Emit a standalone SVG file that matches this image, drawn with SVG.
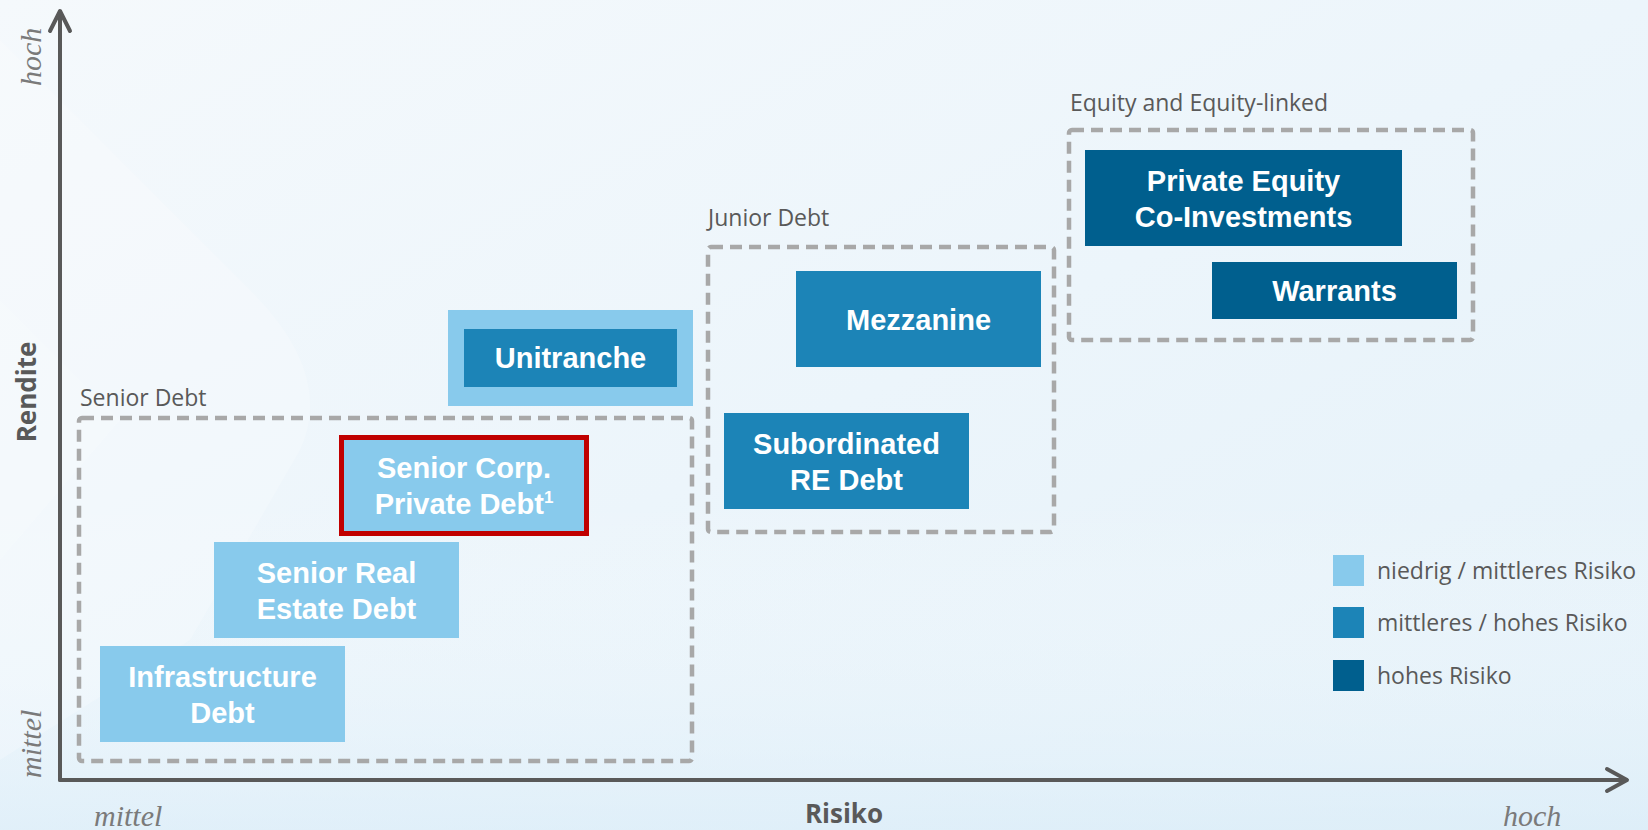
<svg xmlns="http://www.w3.org/2000/svg" width="1648" height="830" viewBox="0 0 1648 830">
  <defs>
    <linearGradient id="bg" x1="0" y1="0" x2="1" y2="1">
      <stop offset="0" stop-color="#f5f9fc"/>
      <stop offset="0.5" stop-color="#ecf5fb"/>
      <stop offset="1" stop-color="#e4f1f9"/>
    </linearGradient>
    <linearGradient id="bgb" x1="0" y1="0" x2="0" y2="1">
      <stop offset="0.6" stop-color="#ffffff" stop-opacity="0"/>
      <stop offset="1" stop-color="#d9ecf8" stop-opacity="0.6"/>
    </linearGradient>
    <style>
      .lab { font-family: "Open Sans", "Liberation Sans", sans-serif; font-size: 23px; fill: #595959; }
      .ax { font-family: "Open Sans", "Liberation Sans", sans-serif; font-size: 26px; font-weight: bold; fill: #595959; }
      .sc { font-family: "Liberation Serif", serif; font-style: italic; font-size: 30px; fill: #7a7a7a; }
      .bt { font-family: "Liberation Sans", Arial, sans-serif; font-size: 29px; font-weight: bold; fill: #ffffff; text-anchor: middle; }
      .grp { fill: none; stroke: #a8a8a8; stroke-width: 4.5; stroke-dasharray: 12 7; }
      .lo { fill: #88caec; }
      .mid { fill: #1c84b7; }
      .hi { fill: #005f8e; }
      .axis { fill: none; stroke: #595959; stroke-width: 4; stroke-linecap: round; stroke-linejoin: round; }
    </style>
  </defs>

  <g id="background">
    <rect x="0" y="0" width="1648" height="830" fill="url(#bg)"/>
    <rect x="0" y="0" width="1648" height="830" fill="url(#bgb)"/>
    <path d="M0,40 L250,290 Q335,375 300,450 L190,640 L0,760 Z" fill="#ffffff" fill-opacity="0.22"/>
    <path d="M0,300 L120,420 L0,560 Z" fill="#ffffff" fill-opacity="0.15"/>
  </g>

  <g id="connectors">
    <line class="axis" x1="60" y1="780" x2="60" y2="12"/>
    <polyline class="axis" points="50,31 60,11 70,31"/>
    <line class="axis" x1="60" y1="780" x2="1626" y2="780"/>
    <polyline class="axis" points="1607,769 1627,780 1607,791"/>
  </g>

  <g id="axis-labels">
    <text class="sc" transform="translate(41,86) rotate(-90)">hoch</text>
    <text class="sc" transform="translate(41,778) rotate(-90)">mittel</text>
    <text class="sc" x="94" y="826">mittel</text>
    <text class="sc" x="1503" y="826">hoch</text>
    <text class="ax" font-size="27" text-anchor="middle" transform="translate(36,392) rotate(-90)">Rendite</text>
    <text class="ax" x="844" y="823" text-anchor="middle">Risiko</text>
  </g>

  <g id="group-senior-debt">
    <rect class="grp" x="79" y="418" width="613" height="343" rx="3"/>
    <text class="lab" x="80" y="406">Senior Debt</text>
  </g>
  <g id="group-junior-debt">
    <rect class="grp" x="708" y="247" width="346" height="285" rx="3"/>
    <text class="lab" x="708" y="226">Junior Debt</text>
  </g>
  <g id="group-equity">
    <rect class="grp" x="1069" y="130" width="404" height="210" rx="3"/>
    <text class="lab" x="1070" y="111">Equity and Equity-linked</text>
  </g>

  <g id="node-infrastructure-debt">
    <rect class="lo" x="100" y="646" width="245" height="96"/>
    <text class="bt" x="222.5" y="687">Infrastructure</text>
    <text class="bt" x="222.5" y="723">Debt</text>
  </g>
  <g id="node-senior-real-estate-debt">
    <rect class="lo" x="214" y="542" width="245" height="96"/>
    <text class="bt" x="336.5" y="583">Senior Real</text>
    <text class="bt" x="336.5" y="619">Estate Debt</text>
  </g>
  <g id="node-senior-corp-private-debt">
    <rect class="lo" x="341.5" y="437.5" width="245" height="96" stroke="#c00000" stroke-width="5"/>
    <text class="bt" x="464" y="477.5">Senior Corp.</text>
    <text class="bt" x="464" y="514">Private Debt<tspan font-size="17" dy="-11">1</tspan></text>
  </g>
  <g id="node-unitranche">
    <rect class="lo" x="448" y="310" width="245" height="96"/>
    <rect class="mid" x="464" y="329" width="213" height="58"/>
    <text class="bt" x="570.5" y="368">Unitranche</text>
  </g>
  <g id="node-mezzanine">
    <rect class="mid" x="796" y="271" width="245" height="96"/>
    <text class="bt" x="918.5" y="330">Mezzanine</text>
  </g>
  <g id="node-subordinated-re-debt">
    <rect class="mid" x="724" y="413" width="245" height="96"/>
    <text class="bt" x="846.5" y="454">Subordinated</text>
    <text class="bt" x="846.5" y="490">RE Debt</text>
  </g>
  <g id="node-private-equity">
    <rect class="hi" x="1085" y="150" width="317" height="96"/>
    <text class="bt" x="1243.5" y="191">Private Equity</text>
    <text class="bt" x="1243.5" y="227">Co-Investments</text>
  </g>
  <g id="node-warrants">
    <rect class="hi" x="1212" y="262" width="245" height="57"/>
    <text class="bt" x="1334.5" y="301">Warrants</text>
  </g>

  <g id="legend">
    <rect class="lo" x="1333" y="555" width="31" height="31"/>
    <text class="lab" x="1377" y="579">niedrig / mittleres Risiko</text>
    <rect class="mid" x="1333" y="607" width="31" height="31"/>
    <text class="lab" x="1377" y="631">mittleres / hohes Risiko</text>
    <rect class="hi" x="1333" y="660" width="31" height="31"/>
    <text class="lab" x="1377" y="684">hohes Risiko</text>
  </g>
</svg>
